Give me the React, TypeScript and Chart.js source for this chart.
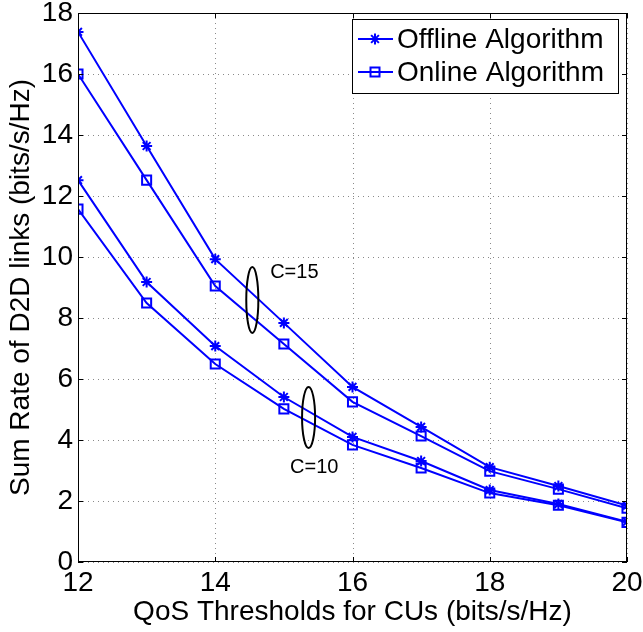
import React, { useEffect, useRef } from 'react';
import { Chart, registerables } from 'chart.js';

Chart.register(...registerables);

const qosThresholds = [12, 13, 14, 15, 16, 17, 18, 19, 20];
const offlineC15 = [17.38, 13.64, 9.93, 7.84, 5.74, 4.43, 3.11, 2.49, 1.85];
const onlineC15 = [16.0, 12.52, 9.05, 7.15, 5.25, 4.13, 2.98, 2.39, 1.76];
const offlineC10 = [12.52, 9.18, 7.08, 5.41, 4.1, 3.31, 2.36, 1.9, 1.32];
const onlineC10 = [11.57, 8.49, 6.49, 5.02, 3.84, 3.08, 2.26, 1.86, 1.3];

const xTickValues = [12, 14, 16, 18, 20];
const yTickValues = [0, 2, 4, 6, 8, 10, 12, 14, 16, 18];
const legendLabels = ['Offline Algorithm', 'Online Algorithm'];
const groupLabels = ['C=15', 'C=10'];

const xTitle = 'QoS Thresholds for CUs (bits/s/Hz)';
const yTitle = 'Sum Rate of D2D links (bits/s/Hz)';

// annotation geometry in data units
const ellipseCX = [14.54, 15.36];
const ellipseCY = [8.59, 4.74];
const ellipseRX = [0.088, 0.095];
const ellipseRY = [1.08, 1.0];
const labelX = [14.8, 15.09];
const labelY = [9.31, 2.92];

const FONT = '"Liberation Sans", Arial, Helvetica, sans-serif';
const BLUE = '#0000ff';

const toPts = (ys: number[]) => qosThresholds.map((x, i) => ({ x, y: ys[i] }));

const gridPlugin = {
  id: 'dottedGrid',
  beforeDatasetsDraw(chart: any) {
    const { ctx, chartArea: a, scales } = chart;
    ctx.save();
    ctx.strokeStyle = '#8a8a8a';
    ctx.lineWidth = 1;
    ctx.setLineDash([1, 4]);
    ctx.beginPath();
    xTickValues.forEach((v) => {
      const px = Math.round(scales.x.getPixelForValue(v)) + 0.5;
      ctx.moveTo(px, a.top);
      ctx.lineTo(px, a.bottom);
    });
    yTickValues.forEach((v) => {
      const py = Math.round(scales.y.getPixelForValue(v)) + 0.5;
      ctx.moveTo(a.left, py);
      ctx.lineTo(a.right, py);
    });
    ctx.stroke();
    ctx.restore();
  },
};

const decorPlugin = {
  id: 'decor',
  afterDatasetsDraw(chart: any) {
    const { ctx, chartArea: a, scales } = chart;
    const xs = scales.x;
    const ys = scales.y;
    ctx.save();
    // box
    ctx.strokeStyle = '#000';
    ctx.lineWidth = 1;
    ctx.setLineDash([]);
    ctx.strokeRect(a.left + 0.5, a.top + 0.5, a.right - a.left - 1, a.bottom - a.top - 1);
    // inward ticks
    const tl = 5;
    ctx.beginPath();
    xTickValues.forEach((v) => {
      const px = Math.round(xs.getPixelForValue(v)) + 0.5;
      ctx.moveTo(px, a.bottom);
      ctx.lineTo(px, a.bottom - tl);
      ctx.moveTo(px, a.top);
      ctx.lineTo(px, a.top + tl);
    });
    yTickValues.forEach((v) => {
      const py = Math.round(ys.getPixelForValue(v)) + 0.5;
      ctx.moveTo(a.left, py);
      ctx.lineTo(a.left + tl, py);
      ctx.moveTo(a.right, py);
      ctx.lineTo(a.right - tl, py);
    });
    ctx.stroke();

    // ellipses + labels
    ctx.lineWidth = 2;
    for (let i = 0; i < groupLabels.length; i++) {
      const cx = xs.getPixelForValue(ellipseCX[i]);
      const cy = ys.getPixelForValue(ellipseCY[i]);
      const rx = Math.abs(xs.getPixelForValue(ellipseCX[i] + ellipseRX[i]) - cx);
      const ry = Math.abs(ys.getPixelForValue(ellipseCY[i] + ellipseRY[i]) - cy);
      ctx.beginPath();
      ctx.ellipse(cx, cy, rx, ry, 0, 0, Math.PI * 2);
      ctx.stroke();
      ctx.fillStyle = '#000';
      ctx.font = `20px ${FONT}`;
      ctx.textAlign = 'left';
      ctx.textBaseline = 'alphabetic';
      ctx.fillText(groupLabels[i], xs.getPixelForValue(labelX[i]), ys.getPixelForValue(labelY[i]));
    }

    // legend
    const lx = a.right - 275;
    const ly = a.top + 6;
    const lw = 266;
    const lh = 74;
    ctx.fillStyle = '#fff';
    ctx.fillRect(lx, ly, lw, lh);
    ctx.strokeStyle = '#000';
    ctx.lineWidth = 1;
    ctx.strokeRect(lx + 0.5, ly + 0.5, lw, lh);
    const rows = [ly + 20, ly + 53];
    ctx.font = `28px ${FONT}`;
    ctx.textBaseline = 'middle';
    ctx.textAlign = 'left';
    rows.forEach((ry, i) => {
      ctx.strokeStyle = BLUE;
      ctx.lineWidth = 2;
      ctx.beginPath();
      ctx.moveTo(lx + 6, ry);
      ctx.lineTo(lx + 41, ry);
      ctx.stroke();
      const mx = lx + 23;
      if (i === 0) {
        ctx.beginPath();
        const r = 5.5;
        ctx.moveTo(mx - r, ry);
        ctx.lineTo(mx + r, ry);
        ctx.moveTo(mx, ry - r);
        ctx.lineTo(mx, ry + r);
        const d = r * Math.SQRT1_2;
        ctx.moveTo(mx - d, ry - d);
        ctx.lineTo(mx + d, ry + d);
        ctx.moveTo(mx - d, ry + d);
        ctx.lineTo(mx + d, ry - d);
        ctx.stroke();
      } else {
        ctx.strokeRect(mx - 4.5, ry - 4.5, 9, 9);
      }
      ctx.fillStyle = '#000';
      ctx.fillText(legendLabels[i], lx + 45, ry + 1);
    });
    ctx.restore();
  },
};

export default function App() {
  const ref = useRef<HTMLCanvasElement | null>(null);
  useEffect(() => {
    if (!ref.current) return;
    const starDs = (label: string, ys: number[]) => ({
      label,
      data: toPts(ys),
      borderColor: BLUE,
      borderWidth: 2,
      pointStyle: 'star',
      pointRadius: 5.5,
      pointBorderWidth: 2,
      pointBorderColor: BLUE,
      pointBackgroundColor: BLUE,
      tension: 0,
      fill: false,
    });
    const rectDs = (label: string, ys: number[]) => ({
      label,
      data: toPts(ys),
      borderColor: BLUE,
      borderWidth: 2,
      pointStyle: 'rect',
      pointRadius: 6.4,
      pointBorderWidth: 2,
      pointBorderColor: BLUE,
      pointBackgroundColor: 'rgba(0,0,0,0)',
      tension: 0,
      fill: false,
    });
    const chart = new Chart(ref.current, {
      type: 'line',
      data: {
        datasets: [
          starDs('Offline Algorithm (C=15)', offlineC15),
          rectDs('Online Algorithm (C=15)', onlineC15),
          starDs('Offline Algorithm (C=10)', offlineC10),
          rectDs('Online Algorithm (C=10)', onlineC10),
        ] as any,
      },
      options: {
        animation: false,
        responsive: false,
        maintainAspectRatio: false,
        layout: { padding: { top: 13, right: 16, left: 0, bottom: 0 } },
        plugins: { legend: { display: false }, tooltip: { enabled: false } },
        scales: {
          x: {
            type: 'linear',
            min: 12,
            max: 20,
            afterBuildTicks: (s: any) => {
              s.ticks = xTickValues.map((v) => ({ value: v }));
            },
            afterFit: (s: any) => {
              s.height = 70;
              s.paddingLeft = 0;
              s.paddingRight = 0;
            },
            ticks: { color: '#000', font: { family: FONT, size: 28 }, padding: 4, maxRotation: 0 },
            grid: { display: false, drawTicks: false },
            border: { display: false },
            title: {
              display: true,
              text: xTitle,
              color: '#000',
              font: { family: FONT, size: 28 },
              padding: { top: 0, bottom: 3 },
            },
          },
          y: {
            type: 'linear',
            min: 0,
            max: 18,
            afterBuildTicks: (s: any) => {
              s.ticks = yTickValues.map((v) => ({ value: v }));
            },
            afterFit: (s: any) => {
              s.width = 78;
              s.paddingTop = 0;
              s.paddingBottom = 0;
            },
            ticks: { color: '#000', font: { family: FONT, size: 28 }, padding: 5 },
            grid: { display: false, drawTicks: false },
            border: { display: false },
            title: {
              display: true,
              text: yTitle,
              color: '#000',
              font: { family: FONT, size: 28 },
              padding: { top: 4, bottom: 4 },
            },
          },
        },
      },
      plugins: [gridPlugin, decorPlugin],
    });
    return () => chart.destroy();
  }, []);
  return (
    <div style={{ position: 'absolute', left: 0, top: 0, width: 643, height: 632, background: '#fff' }}>
      <canvas ref={ref} width={643} height={632} style={{ display: 'block', width: 643, height: 632 }} />
    </div>
  );
}
